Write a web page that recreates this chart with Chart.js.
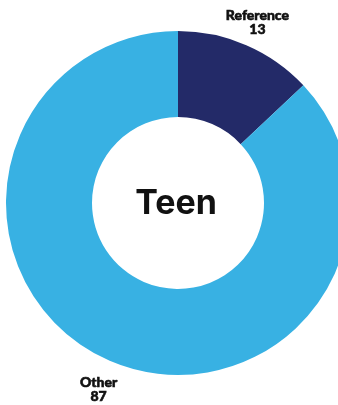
<!DOCTYPE html>
<html>
<head>
<meta charset="utf-8">
<script src="https://cdn.jsdelivr.net/npm/chart.js@4/dist/chart.umd.min.js"></script>
<style>
    html, body { margin: 0; padding: 0; background: #fff; overflow: hidden; }
    #wrap { position: absolute; left: 0; top: 0; width: 356px; height: 405px; }
</style>
</head>
<body>
<div id="wrap"><canvas id="teen-share-chart"></canvas></div>
<script>
const shareLabels = ["Reference", "Other"];
const shareValues = [13, 87];
const shareColors = ["#232a68", "#38b1e3"];
const centerTitle = "Teen";

// writes the label and value outside each slice, at its mid angle
const outerLabels = {
    id: "outerLabels",
    afterDraw(chart) {
        const ctx = chart.ctx;
        const meta = chart.getDatasetMeta(0);
        ctx.save();
        ctx.fillStyle = "#111";
        ctx.strokeStyle = "#111";
        ctx.lineWidth = 0.6;
        ctx.textAlign = "center";
        ctx.textBaseline = "middle";
        ctx.font = "900 14px Lato";
        meta.data.forEach((arc, i) => {
            const p = arc.getProps(["x", "y", "startAngle", "endAngle", "outerRadius"], true);
            const mid = (p.startAngle + p.endAngle) / 2;
            const r = p.outerRadius + 28;
            const x = p.x + Math.cos(mid) * r;
            const y = p.y + Math.sin(mid) * r + 3;
            // a thin stroke makes the labels a little heavier
            ctx.fillText(shareLabels[i], x, y - 7);
            ctx.strokeText(shareLabels[i], x, y - 7);
            ctx.fillText(String(shareValues[i]), x, y + 7);
            ctx.strokeText(String(shareValues[i]), x, y + 7);
        });
        // title in the hole
        const c = meta.data[0];
        ctx.font = "bold 34px Inter";
        ctx.fillText(centerTitle, c.x - 2, c.y + 1);
        ctx.restore();
    },
};

const teenShareContext = document.getElementById("teen-share-chart");

const teenShareChart = new Chart(teenShareContext, {
    type: "doughnut",
    data: {
        labels: shareLabels,
        datasets: [
            {
                data: shareValues,
                backgroundColor: shareColors,
                borderWidth: 0,
            },
        ],
    },
    options: {
        responsive: true,
        maintainAspectRatio: false,
        animation: false,
        cutout: "50%",
        layout: { padding: { top: 31, bottom: 30, left: 0, right: 0 } },
        plugins: {
            legend: { display: false },
            tooltip: { enabled: false },
        },
    },
    plugins: [outerLabels],
});
</script>
</body>
</html>
